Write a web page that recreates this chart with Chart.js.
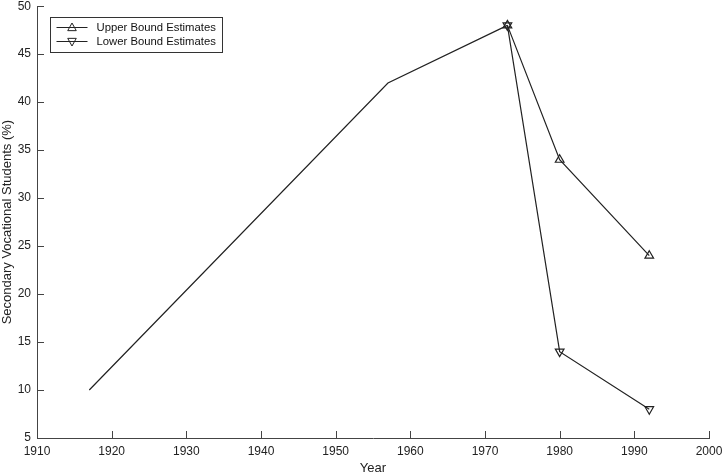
<!DOCTYPE html>
<html>
<head>
<meta charset="utf-8">
<script src="https://cdn.jsdelivr.net/npm/chart.js@4"></script>
<style>
  html, body { margin: 0; padding: 0; background: #fff; }
  #wrap { width: 722px; height: 476px; position: relative; }
</style>
</head>
<body>
<div id="wrap"><canvas id="vocChart"></canvas></div>
<script>
// data
const earlyYears = [1917, 1957, 1973];
const earlyShare = [10, 42, 48];
const boundYears = [1973, 1980, 1992];
const upperShare = [48, 34, 24];
const lowerShare = [48, 14, 8];
const xTicks = [1910, 1920, 1930, 1940, 1950, 1960, 1970, 1980, 1990, 2000];
const yTicks = [5, 10, 15, 20, 25, 30, 35, 40, 45, 50];
const seriesNames = ['Upper Bound Estimates', 'Lower Bound Estimates'];

const FONT = 'Liberation Sans, Arial, Helvetica, sans-serif';
const toPoints = (xs, ys) => xs.map((x, i) => ({ x: x, y: ys[i] }));

function tri(ctx, x, y, r, down) {
  const s = down ? -1 : 1;
  ctx.beginPath();
  ctx.moveTo(x, y - s * r);
  ctx.lineTo(x + r * 0.95, y + s * r * 0.7);
  ctx.lineTo(x - r * 0.95, y + s * r * 0.7);
  ctx.closePath();
  ctx.stroke();
}

// inward tick marks + matlab style legend
const extras = {
  id: 'extras',
  afterDraw(chart) {
    const ctx = chart.ctx;
    const xs = chart.scales.x, ys = chart.scales.y;
    const a = chart.chartArea;
    ctx.save();
    ctx.strokeStyle = '#444';
    ctx.lineWidth = 1;
    xTicks.forEach(v => {
      const px = Math.round(xs.getPixelForValue(v)) + 0.5;
      ctx.beginPath(); ctx.moveTo(px, a.bottom); ctx.lineTo(px, a.bottom - 7); ctx.stroke();
    });
    yTicks.forEach(v => {
      const py = Math.round(ys.getPixelForValue(v)) + 0.5;
      ctx.beginPath(); ctx.moveTo(a.left, py); ctx.lineTo(a.left + 7, py); ctx.stroke();
    });

    // legend box
    const bx = 50.5, by = 17.5, bw = 172, bh = 35;
    ctx.fillStyle = '#fff';
    ctx.fillRect(bx, by, bw, bh);
    ctx.strokeStyle = '#333';
    ctx.strokeRect(bx, by, bw, bh);
    ctx.font = '11.3px ' + FONT;
    ctx.textBaseline = 'middle';
    seriesNames.forEach((name, i) => {
      const ly = by + 10 + i * 14;
      ctx.strokeStyle = '#222';
      ctx.beginPath(); ctx.moveTo(bx + 6, ly); ctx.lineTo(bx + 37, ly); ctx.stroke();
      tri(ctx, bx + 21.5, ly, 4.5, i === 1);
      ctx.fillStyle = '#111';
      ctx.fillText(name, bx + 46, ly + 0.5);
    });
    ctx.restore();
  }
};

function initVocChart() {
  const el = document.getElementById('vocChart');
  new Chart(el, {
    type: 'line',
    data: {
      datasets: [
        {
          label: 'trend',
          data: toPoints(earlyYears, earlyShare),
          borderColor: '#222',
          borderWidth: 1.2,
          pointRadius: 0,
          tension: 0
        },
        {
          label: seriesNames[0],
          data: toPoints(boundYears, upperShare),
          borderColor: '#222',
          borderWidth: 1.2,
          pointStyle: 'triangle',
          pointRadius: 5,
          pointBorderColor: '#222',
          pointBackgroundColor: 'rgba(0,0,0,0)',
          pointBorderWidth: 1.2,
          tension: 0
        },
        {
          label: seriesNames[1],
          data: toPoints(boundYears, lowerShare),
          borderColor: '#222',
          borderWidth: 1.2,
          pointStyle: 'triangle',
          pointRotation: 180,
          pointRadius: 5,
          pointBorderColor: '#222',
          pointBackgroundColor: 'rgba(0,0,0,0)',
          pointBorderWidth: 1.2,
          tension: 0
        }
      ]
    },
    options: {
      responsive: true,
      maintainAspectRatio: false,
      animation: false,
      layout: { padding: { top: 6, right: 13, left: 0, bottom: 0 } },
      plugins: {
        legend: { display: false },
        tooltip: { enabled: false }
      },
      scales: {
        x: {
          type: 'linear',
          min: 1910,
          max: 2000,
          afterFit: s => { s.height = 38; s.paddingLeft = 0; s.paddingRight = 0; },
          afterBuildTicks: s => { s.ticks = xTicks.map(v => ({ value: v })); },
          grid: { display: false, drawTicks: false },
          border: { display: true, color: '#444', width: 1 },
          ticks: {
            color: '#222',
            padding: 6,
            maxRotation: 0,
            font: { family: FONT, size: 12 },
            callback: v => String(v)
          },
          title: {
            display: true,
            text: 'Year',
            color: '#222',
            padding: { top: 0, bottom: 0 },
            font: { family: FONT, size: 13 }
          }
        },
        y: {
          min: 5,
          max: 50,
          afterFit: s => { s.width = 37; s.paddingTop = 0; s.paddingBottom = 0; },
          afterBuildTicks: s => { s.ticks = yTicks.map(v => ({ value: v })); },
          grid: { display: false, drawTicks: false },
          border: { display: true, color: '#444', width: 1 },
          ticks: {
            color: '#222',
            padding: 6,
            font: { family: FONT, size: 12 },
            callback: v => String(v)
          },
          title: {
            display: true,
            text: 'Secondary Vocational Students (%)',
            color: '#222',
            padding: { top: 0, bottom: 0 },
            font: { family: FONT, size: 13 }
          }
        }
      }
    },
    plugins: [extras]
  });
}

document.addEventListener('DOMContentLoaded', () => {
  initVocChart();
});
</script>
</body>
</html>
